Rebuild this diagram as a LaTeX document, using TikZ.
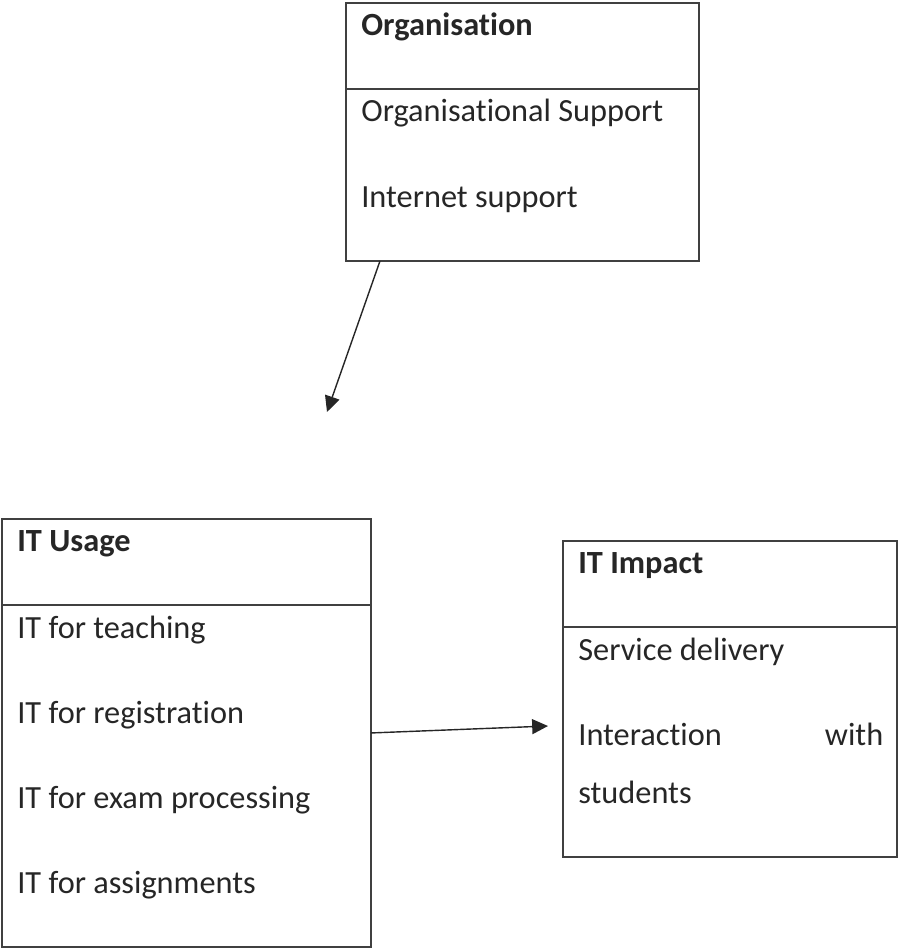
\documentclass[tikz,border=0pt]{standalone}
\usepackage{fontspec}
\setmainfont{Carlito}[Ligatures=NoCommon]
\usetikzlibrary{arrows.meta, positioning}

\begin{document}
\begin{tikzpicture}[x=0.02cm, y=-0.02cm,
  every node/.style={font=\fontsize{18.4}{22}\selectfont, text=black!85},
  frame/.style={rectangle, draw=black!75, line width=0.7pt, anchor=north west,
                inner sep=0pt, outer sep=0pt},
  title/.style={anchor=base west, inner sep=0pt,
                font=\fontsize{18.4}{22}\selectfont\bfseries},
  item/.style={anchor=base west, inner sep=0pt},
  divider/.style={black!75, line width=0.7pt},
  link/.style={-{Triangle[length=9pt, width=8.5pt]}, line width=0.8pt, black!85}
]
  \useasboundingbox (0,0) rectangle (898,948);

  % Organisation
  \node[frame, minimum width=7.06cm, minimum height=5.16cm] (org) at (346,3) {};
  \draw[divider] (org.west |- 0,89) -- (org.east |- 0,89);
  \node[title] (orgtitle) at (361,35) {Organisation};
  \node[item] (orgsupport) at (361,121) {Organisational Support};
  \node[item] (netsupport) at (361,207) {Internet support};

  % IT Usage
  \node[frame, minimum width=7.38cm, minimum height=8.56cm] (usage) at (2,519) {};
  \draw[divider] (usage.west |- 0,605) -- (usage.east |- 0,605);
  \node[title] (usagetitle) at (17,551) {IT Usage};
  \node[item] (teaching) at (17,638) {IT for teaching};
  \node[item] (registration) at (17,723) {IT for registration};
  \node[item] (exams) at (17,808) {IT for exam processing};
  \node[item] (assignments) at (17,893) {IT for assignments};

  % IT Impact
  \node[frame, minimum width=6.68cm, minimum height=6.32cm] (impact) at (563,541) {};
  \draw[divider] (impact.west |- 0,627) -- (impact.east |- 0,627);
  \node[title] (impacttitle) at (578,573) {IT Impact};
  \node[item] (delivery) at (578,660) {Service delivery};
  \node[item, text width=6.1cm, align=left] (interaction) at (578,745)
    {Interaction\hfill with};
  \node[item] (students) at (578,803) {students};

  % connectors
  \coordinate (orgtip) at (327,412);
  \coordinate (impacttip) at (548,726);
  \draw[link] ([xshift=0.68cm]org.south west) -- (orgtip);
  \draw[link] (usage.east) -- (impacttip);
\end{tikzpicture}
\end{document}
